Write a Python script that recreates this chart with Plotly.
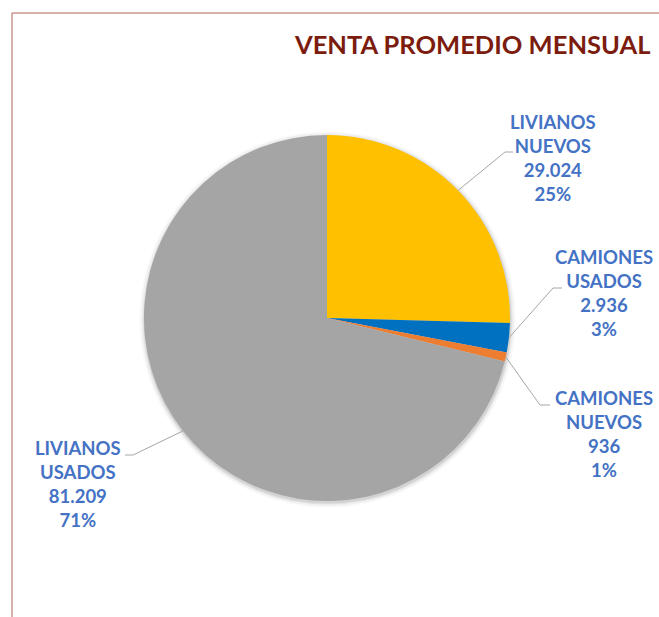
import plotly.graph_objects as go
import math

categories = ["LIVIANOS<br>NUEVOS", "CAMIONES<br>USADOS", "CAMIONES<br>NUEVOS", "LIVIANOS<br>USADOS"]
values = [29024, 2936, 936, 81209]
value_labels = ["29.024", "2.936", "936", "81.209"]
pct_labels = ["25%", "3%", "1%", "71%"]
colors = ["#FFC000", "#0070C0", "#ED7D31", "#A5A5A5"]

W, H = 659, 617

def px(x):
    return x / W

def py(y):
    return 1 - y / H

# pie geometry in screen pixels
cx, cy, r = 327, 318, 183

def domain(c_x, c_y, rad):
    return dict(x=[px(c_x - rad), px(c_x + rad)], y=[py(c_y + rad), py(c_y - rad)])

# label layout (screen pixel positions: text center, elbow point, horizontal end)
label_pos = [(553, 158), (604, 293), (604, 434), (78, 484)]
elbows = [((505, 152), (513, 152)), ((553, 288), (562, 288)),
          ((540, 405), (550, 405)), ((133, 455), (125, 455))]

fig = go.Figure()
# soft shadow layers
for k, (dr, op) in enumerate([(5, 0.025), (3.5, 0.035), (2, 0.05), (1, 0.07)]):
    fig.add_trace(go.Pie(
        values=[1], labels=["s%d" % k], textinfo="none", hoverinfo="skip",
        marker=dict(colors=["rgba(0,0,0,%g)" % op], line=dict(width=0)),
        domain=domain(cx + 0.5, cy + 1.5, r + dr), showlegend=False, sort=False,
    ))
fig.add_trace(go.Pie(
    labels=categories, values=values, sort=False, direction="clockwise",
    rotation=0, textinfo="none", hoverinfo="label+value+percent",
    marker=dict(colors=colors, line=dict(width=0)),
    domain=domain(cx, cy, r), showlegend=False,
))

shapes = []
frame_col = "#C9958B"
shapes.append(dict(type="line", xref="paper", yref="paper", x0=px(12), y0=py(13), x1=1.01, y1=py(13),
                   line=dict(color=frame_col, width=1.5)))
shapes.append(dict(type="line", xref="paper", yref="paper", x0=px(12), y0=py(13), x1=px(12), y1=-0.01,
                   line=dict(color=frame_col, width=1.5)))

total = sum(values)
cum = 0
annotations = []
for i, v in enumerate(values):
    mid = (cum + v / 2) / total * 2 * math.pi
    cum += v
    ex = cx + r * math.sin(mid)
    ey = cy - r * math.cos(mid)
    (bx, by), (hx, hy) = elbows[i]
    path = f"M {px(ex)},{py(ey)} L {px(bx)},{py(by)} L {px(hx)},{py(hy)}"
    shapes.append(dict(type="path", xref="paper", yref="paper", path=path,
                       line=dict(color="#A6A6A6", width=1)))
    lx, ly = label_pos[i]
    annotations.append(dict(
        x=px(lx), y=py(ly), xref="paper", yref="paper", showarrow=False,
        xanchor="center", yanchor="middle", align="center",
        text=f"<b>{categories[i]}<br>{value_labels[i]}<br>{pct_labels[i]}</b>",
        font=dict(family="Lato, 'Open Sans', sans-serif", size=18.5, color="#4472C4"),
    ))

annotations.append(dict(
    x=px(652), y=py(44), xref="paper", yref="paper", showarrow=False,
    xanchor="right", yanchor="middle",
    text="<b>VENTA PROMEDIO MENSUAL</b>",
    font=dict(family="Lato, 'Open Sans', sans-serif", size=25.5, color="#7B1C0E"),
))

fig.update_layout(
    width=W, height=H, margin=dict(l=0, r=0, t=0, b=0),
    paper_bgcolor="white", plot_bgcolor="white",
    shapes=shapes, annotations=annotations,
)

fig.write_html(
    "out.html",
    config={"displayModeBar": False},
    post_script="document.body.style.margin='0';document.body.style.overflow='hidden';",
)
